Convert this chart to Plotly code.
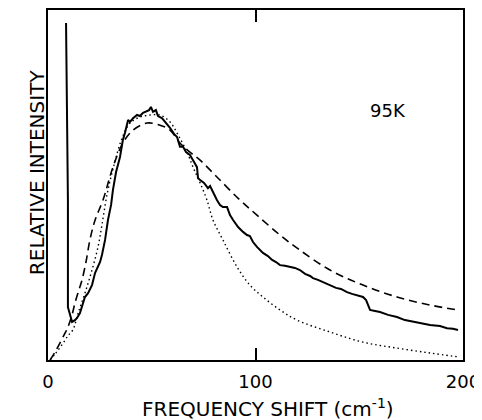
import plotly.graph_objects as go

meas_x = [8.7, 9.2, 9.6, 9.6, 10.6, 11.6, 13.0, 14.0, 15.4, 16.4, 17.8, 19.3, 21.2, 22.7,
          25.1, 26.0, 27.5, 28.9, 30.4, 31.3, 32.8, 34.7, 36.1, 37.1, 38.1, 38.6, 39.5,
          41.0, 42.9, 44.3, 45.8, 47.2, 48.7, 49.6, 50.6, 52.0, 53.0, 54.9, 56.9, 58.8,
          60.7, 62.2, 63.6, 65.1, 66.5, 68.4, 69.9, 71.8, 72.3, 73.3, 75.2, 77.1, 78.1,
          80.0, 81.4, 82.9, 84.3, 86.3, 87.7, 89.2, 91.6, 94.0, 95.9, 97.3, 98.8, 100.7,
          102.2, 103.6, 106.0, 108.0, 109.9, 111.8, 114.2, 116.6, 119.0, 121.4, 123.9,
          126.3, 127.7, 130.1, 132.5, 135.9, 138.8, 141.2, 144.1, 146.5, 149.4, 151.8,
          153.3, 155.2, 157.6, 160.0, 163.9, 168.2, 172.0, 175.9, 179.3, 184.1, 188.9,
          192.3, 195.2, 197.6]
meas_y = [96.3, 74.3, 45.7, 15.1, 12.6, 10.9, 11.4, 12.0, 13.4, 15.1, 18.0, 19.1, 21.4, 24.9,
          28.0, 30.0, 34.3, 40.0, 44.3, 48.6, 53.7, 58.0, 62.9, 64.9, 67.7, 68.6, 68.0,
          69.1, 70.0, 69.7, 70.6, 70.9, 71.4, 72.3, 70.9, 71.4, 69.7, 69.1, 67.7, 66.3,
          64.6, 63.7, 60.9, 60.9, 59.4, 58.6, 57.1, 55.1, 52.0, 51.4, 50.6, 49.1, 49.7,
          47.1, 45.7, 44.3, 43.7, 43.7, 41.4, 40.0, 38.0, 36.6, 35.7, 35.4, 33.7, 32.3,
          31.4, 30.6, 29.7, 28.6, 28.0, 27.1, 26.9, 26.6, 26.3, 25.7, 24.6,
          24.0, 23.4, 22.9, 22.3, 21.4, 20.6, 20.3, 19.4, 18.9, 18.3, 18.0,
          17.1, 14.3, 14.0, 13.7, 12.9, 12.3, 11.4, 10.9, 10.6, 10.0, 9.7,
          9.1, 8.9, 8.6]

# first model curve (dashed)
dash_x = [1.0, 3.4, 5.8, 8.2, 9.6, 11.6, 13.0, 14.9, 16.4, 18.3, 20.2, 22.7, 26.5, 31.3,
          36.1, 41.0, 47.7, 54.0, 58.8, 63.6, 68.4, 73.3, 81.4, 92.5, 100.7, 111.8,
          121.4, 135.9, 151.8, 168.2, 184.1, 197.6]
dash_y = [0.0, 2.3, 4.9, 7.7, 9.4, 12.9, 16.3, 20.0, 22.9, 28.0, 34.3, 40.0, 45.7, 55.1,
          62.0, 65.7, 67.7, 67.1, 65.7, 62.0, 59.4, 57.1, 52.3, 45.7, 41.4, 35.7,
          31.4, 25.7, 21.4, 18.0, 15.7, 14.3]

# second model curve (dotted)
dot_x = [1.0, 3.4, 6.7, 9.6, 12.0, 14.5, 17.8, 21.2, 24.1, 26.0, 28.4, 31.8, 35.7, 39.5,
         44.3, 49.2, 54.0, 58.8, 62.7, 67.0, 69.9, 73.3, 76.6, 79.5, 84.3, 91.1, 97.3,
         103.6, 111.8, 120.0, 135.9, 151.8, 168.2, 184.1, 197.6]
dot_y = [0.0, 1.7, 4.3, 6.9, 8.6, 13.4, 19.1, 25.7, 32.3, 38.6, 47.1, 55.7, 63.4, 67.7,
         69.4, 70.0, 70.0, 68.0, 64.3, 59.4, 55.1, 50.6, 45.7, 40.0, 34.3, 26.6, 21.4,
         18.0, 14.3, 11.4, 8.0, 5.1, 3.4, 2.0, 0.9]

x_ticks = [0, 100, 200]

fig = go.Figure()
fig.add_trace(go.Scatter(x=dash_x, y=dash_y, mode="lines", line_shape="spline",
                         line=dict(color="black", width=1.6, dash="8px,5px")))
fig.add_trace(go.Scatter(x=dot_x, y=dot_y, mode="lines", line_shape="spline",
                         line=dict(color="black", width=1.4, dash="1.5px,3px")))
fig.add_trace(go.Scatter(x=meas_x, y=meas_y, mode="lines",
                         line=dict(color="black", width=2)))

fig.add_annotation(x=164, y=71.4, text="95K", showarrow=False,
                   font=dict(size=18, color="black"))
fig.add_annotation(xref="paper", yref="paper", x=0.53, y=-0.137, yanchor="middle",
                   text="FREQUENCY SHIFT (cm<sup>-1</sup>)", showarrow=False,
                   font=dict(size=20, color="black"))
fig.add_annotation(xref="paper", yref="paper", x=-0.06, y=0.537, textangle=-90,
                   text="RELATIVE INTENSITY", showarrow=False,
                   font=dict(size=20, color="black"))

fig.update_xaxes(range=[0, 200], tickvals=x_ticks, ticks="inside", ticklen=12,
                 tickwidth=1.5, tickcolor="black", showline=True, linecolor="black",
                 linewidth=2, mirror="ticks", showgrid=False, zeroline=False,
                 automargin=False, ticklabelstandoff=4,
                 tickfont=dict(size=18, color="black"))
fig.update_yaxes(range=[0, 100], showticklabels=False, ticks="", showline=True,
                 linecolor="black", linewidth=2, mirror=True, showgrid=False,
                 zeroline=False, automargin=False)
# page body keeps its 8px margin, so the figure is shrunk by that much
fig.update_layout(width=474, height=412, showlegend=False,
                  margin=dict(l=40, r=19, t=2, b=60),
                  plot_bgcolor="white", paper_bgcolor="white",
                  font=dict(family="DejaVu Sans", color="black"))

fig.write_html("out.html")
